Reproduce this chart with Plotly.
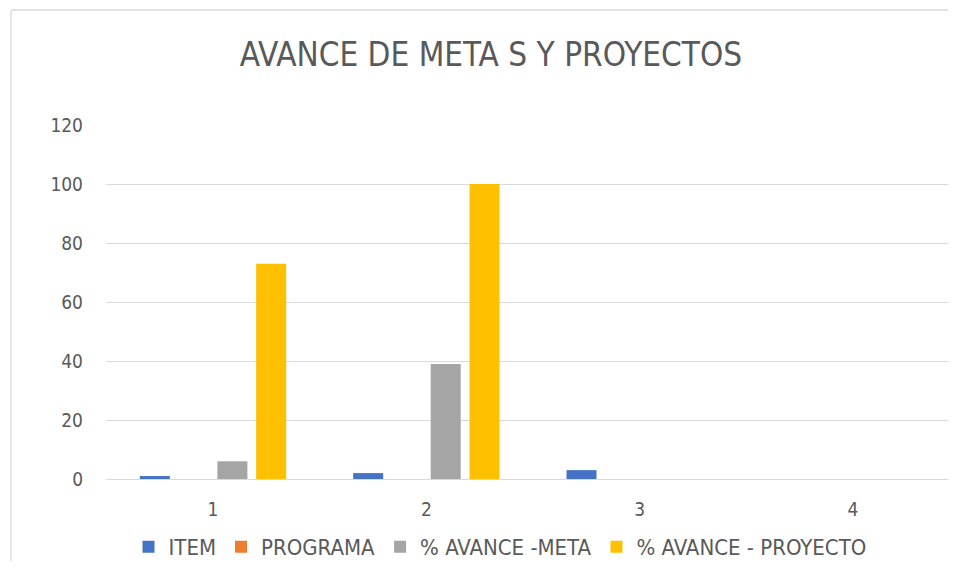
import plotly.graph_objects as go

categories = [1, 2, 3, 4]
item = [1, 2, 3, None]
programa = [0, 0, 0, 0]
avance_meta = [6, 39, 0, 0]
avance_proyecto = [73, 100, 0, 0]

series_names = ["ITEM", "PROGRAMA", "% AVANCE -META", "% AVANCE - PROYECTO"]
series_colors = ["#4472C4", "#ED7D31", "#A5A5A5", "#FFC000"]
series_values = [item, programa, avance_meta, avance_proyecto]

FONT = "Liberation Sans Narrow, DejaVu Sans Condensed, Liberation Sans"
GREY = "#595959"

fig = go.Figure()
for name, color, vals in zip(series_names, series_colors, series_values):
    fig.add_trace(go.Bar(x=categories, y=vals, name=name,
                         marker=dict(color=color, line=dict(width=0))))

# page is offset by the 8px body margin
W, H = 948, 553
L, R, T, B = 98, 0, 117, 82
pw, ph = W - L - R, H - T - B
bx = (3 - L) / pw
ty = (H - B - 2) / ph

fig.update_layout(
    width=W, height=H,
    margin=dict(l=L, r=R, t=T, b=B, autoexpand=False),
    paper_bgcolor="white", plot_bgcolor="white",
    barmode="group", bargap=0.273, bargroupgap=0.226,
    font=dict(family=FONT, color=GREY, size=20),
    title=dict(text="AVANCE DE META S Y PROYECTOS", x=(483 - L) / pw, xref="paper",
               xanchor="center", y=1 - 46 / H, yanchor="middle",
               font=dict(size=33, color=GREY, family=FONT)),
    xaxis=dict(tickmode="array", tickvals=categories, ticktext=[str(c) for c in categories],
               range=[0.4984, 0.4984 + pw / 213.33], showgrid=False, zeroline=False,
               showline=False, ticks="", tickfont=dict(size=19, color=GREY),
               ticklabelstandoff=17),
    yaxis=dict(range=[0, 120], tickvals=[0, 20, 40, 60, 80, 100, 120],
               showgrid=True, gridcolor="#D9D9D9", gridwidth=1.3,
               zeroline=True, zerolinecolor="#D9D9D9", zerolinewidth=1.3,
               ticks="", tickfont=dict(size=19, color=GREY), ticklabelstandoff=22),
    legend=dict(orientation="h", x=(492 - L) / pw, xanchor="center",
                y=-(539 - (H - B)) / ph, yanchor="middle",
                font=dict(size=22, color=GREY), itemwidth=30,
                traceorder="normal", bgcolor="rgba(0,0,0,0)"),
    showlegend=True,
    shapes=[
        dict(type="line", xref="paper", yref="paper", x0=bx, x1=bx, y0=-0.5, y1=ty,
             line=dict(color="#D9D9D9", width=1.3)),
        dict(type="line", xref="paper", yref="paper", x0=bx, x1=1.0, y0=ty, y1=ty,
             line=dict(color="#D9D9D9", width=1.3)),
    ],
)

fig.write_html("out.html")
